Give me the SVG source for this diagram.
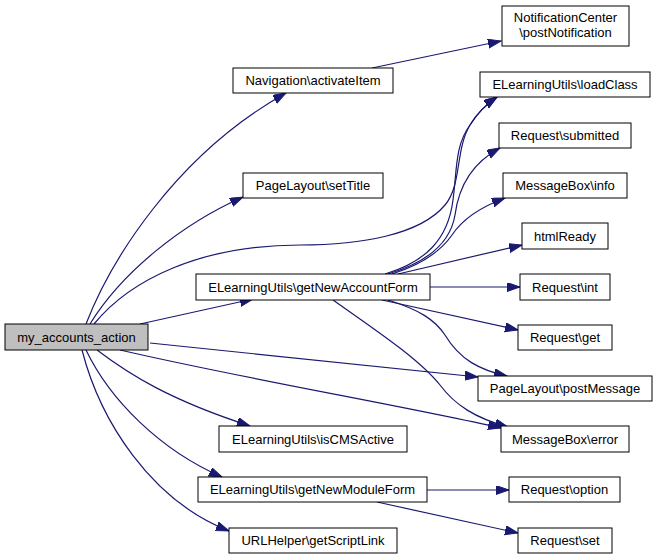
<svg xmlns="http://www.w3.org/2000/svg" width="657" height="559" viewBox="0 0 657 559">
<style>
.n rect{fill:#ffffff;stroke:#000000;stroke-width:1}
.n.root rect{fill:#bfbfbf}
.n text{font-family:"Liberation Sans",Arial,Helvetica,sans-serif;font-size:13px;fill:#000000;text-anchor:middle}
.e path{fill:none;stroke:#191970;stroke-width:1.2;marker-end:url(#ah)}
</style>
<defs>
<marker id="ah" markerUnits="userSpaceOnUse" markerWidth="14" markerHeight="10" refX="13" refY="4.5" orient="auto" viewBox="0 0 14 10">
<path d="M0,0 L13,4.5 L0,9 z" fill="#191970" stroke="#191970" stroke-width="1"/>
</marker>
</defs>
<rect width="657" height="559" fill="#ffffff"/>
<g id="edges" class="e">
<path d="M86,324 C110,262 175,155 286,93"/>
<path d="M372,68 L501,41"/>
<path d="M90,324 C122,272 182,224 243,197"/>
<path d="M94,324 C130,280 200,245 300,245 C360,245 420,235 445,205 C462,185 455,150 470,125 C478,112 488,103 497,97"/>
<path d="M385,274 C425,262 448,240 453,200 C457,170 455,145 470,125 C478,112 488,103 497,97"/>
<path d="M388,274 C425,263 450,245 455,215 C458,192 468,165 500,148"/>
<path d="M392,274 C430,262 445,245 452,235 C462,220 478,208 505,198"/>
<path d="M398,274 L522,245"/>
<path d="M430,287 L520,287"/>
<path d="M382,300 L518,330"/>
<path d="M388,300 C420,310 435,320 445,335 C460,360 480,370 507,376"/>
<path d="M333,300 C380,333 420,360 440,385 C455,405 475,418 508,427"/>
<path d="M140,324 L253,299"/>
<path d="M150,343 L478,377"/>
<path d="M120,350 C250,380 400,405 501,428"/>
<path d="M97,350 C130,375 170,400 250,426"/>
<path d="M86,350 C110,400 160,450 222,477"/>
<path d="M82,350 C100,420 150,500 229,531"/>
<path d="M427,490 L509,490"/>
<path d="M377,502 L518,533"/>
</g>
<g id="n0" class="n root"><rect x="5" y="324" width="143" height="26"/><text x="76.5" y="341.5">my_accounts_action</text></g>
<g id="n1" class="n"><rect x="233" y="68" width="160" height="25"/><text x="313" y="85">Navigation\activateItem</text></g>
<g id="n2" class="n"><rect x="502" y="6" width="127" height="40"/><text x="565.5" y="22">NotificationCenter</text><text x="565.5" y="37">\postNotification</text></g>
<g id="n3" class="n"><rect x="243" y="173" width="140" height="25"/><text x="313" y="190">PageLayout\setTitle</text></g>
<g id="n4" class="n"><rect x="480" y="72" width="170" height="25"/><text x="565" y="89">ELearningUtils\loadClass</text></g>
<g id="n5" class="n"><rect x="499" y="123" width="132" height="25"/><text x="565" y="140">Request\submitted</text></g>
<g id="n6" class="n"><rect x="503" y="173" width="124" height="25"/><text x="565" y="190">MessageBox\info</text></g>
<g id="n7" class="n"><rect x="522" y="223" width="86" height="26"/><text x="565" y="240.5">htmlReady</text></g>
<g id="n8" class="n"><rect x="520" y="274" width="90" height="26"/><text x="565" y="291.5">Request\int</text></g>
<g id="n9" class="n"><rect x="518" y="325" width="94" height="25"/><text x="565" y="342">Request\get</text></g>
<g id="n10" class="n"><rect x="196" y="274" width="234" height="26"/><text x="313" y="291.5">ELearningUtils\getNewAccountForm</text></g>
<g id="n11" class="n"><rect x="478" y="376" width="174" height="25"/><text x="565" y="393">PageLayout\postMessage</text></g>
<g id="n12" class="n"><rect x="501" y="426" width="128" height="26"/><text x="565" y="443.5">MessageBox\error</text></g>
<g id="n13" class="n"><rect x="219" y="426" width="188" height="26"/><text x="313" y="443.5">ELearningUtils\isCMSActive</text></g>
<g id="n14" class="n"><rect x="198" y="477" width="229" height="25"/><text x="312.5" y="494">ELearningUtils\getNewModuleForm</text></g>
<g id="n15" class="n"><rect x="509" y="477" width="111" height="25"/><text x="564.5" y="494">Request\option</text></g>
<g id="n16" class="n"><rect x="229" y="528" width="168" height="25"/><text x="313" y="545">URLHelper\getScriptLink</text></g>
<g id="n17" class="n"><rect x="518" y="528" width="94" height="25"/><text x="565" y="545">Request\set</text></g>
</svg>
